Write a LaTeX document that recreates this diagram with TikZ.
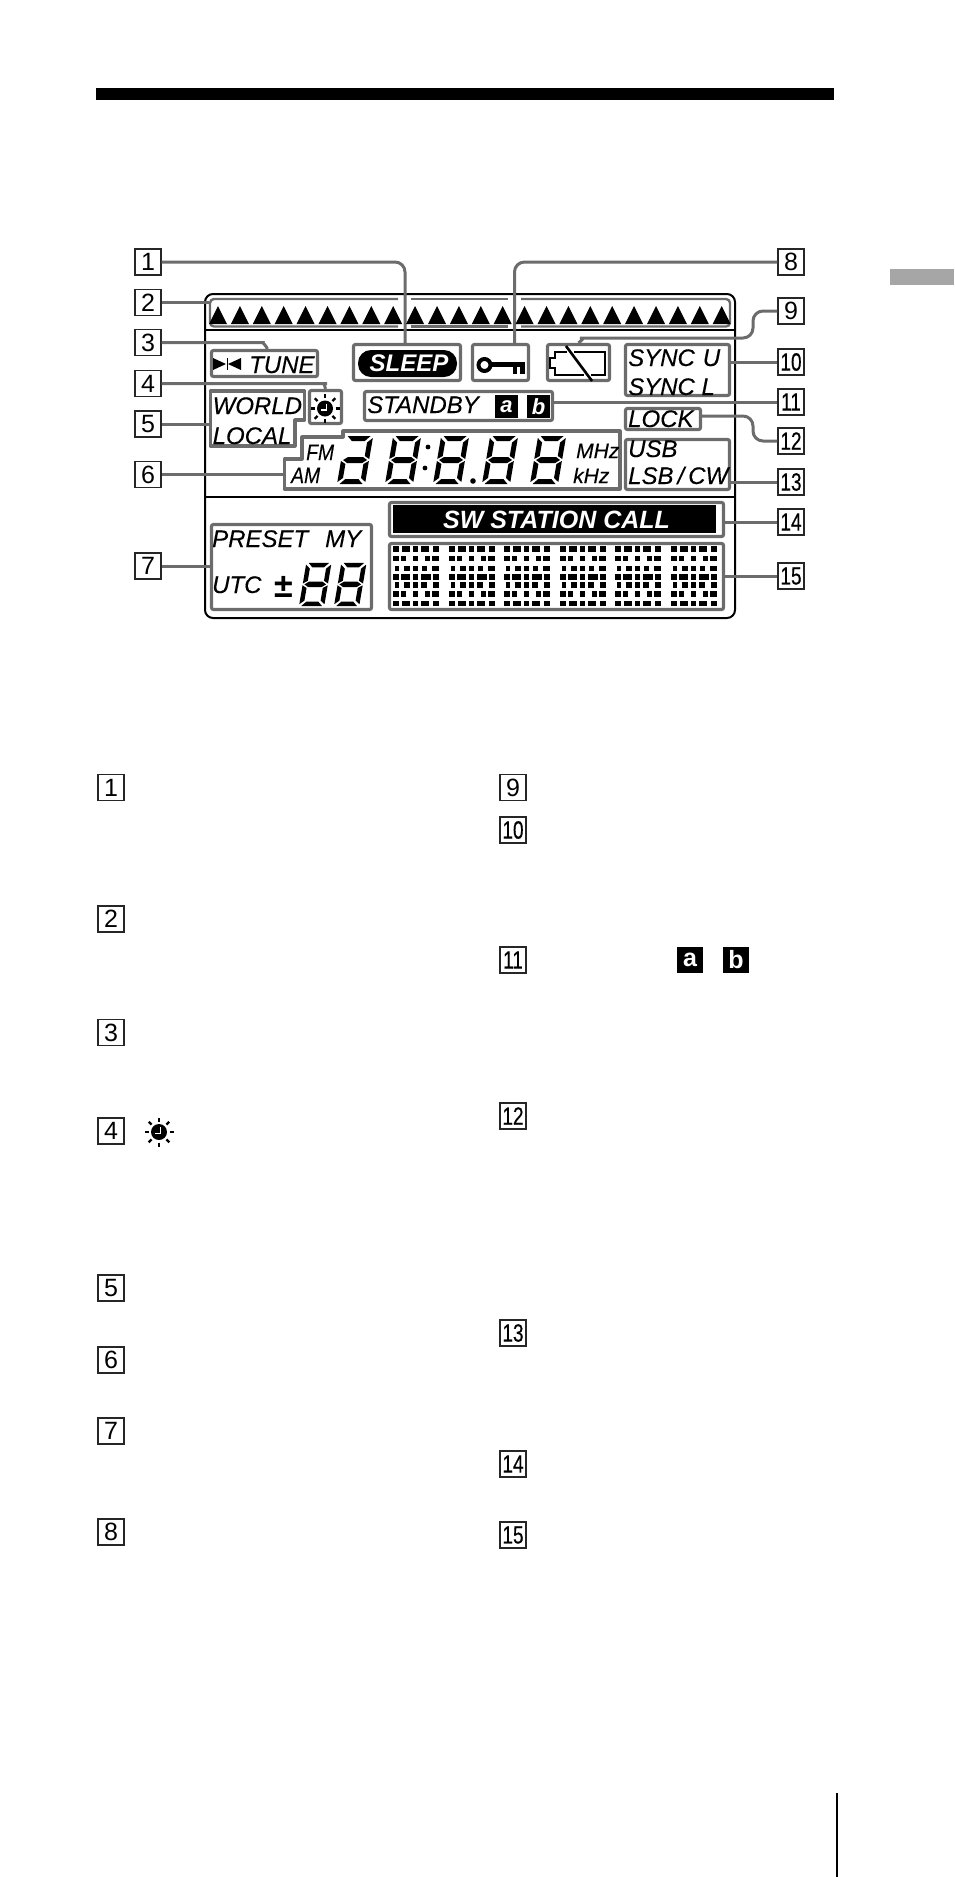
\documentclass[tikz,border=0pt]{standalone}
\usepackage{fontspec}
\setmainfont{Liberation Sans}
\definecolor{lcdgrey}{HTML}{6C6C6C}
\definecolor{tabgrey}{HTML}{A6A6A6}
\newcommand{\fsz}[1]{\fontsize{#1}{#1}\selectfont}
\newcommand{\numtxt}[1]{\ifnum#1>9 \scalebox{.76}[1]{\addfontfeature{FakeBold=0.5}#1}\else #1\fi}
\newcommand{\lcddigit}[4]{%
	\begin{scope}[shift={(#1,#2)},x={(#3*1pt,0pt)},y={(#3*.17pt,#3*1pt)}]
		\fill (2.5,48) -- (25.5,48) -- (20.5,43) -- (7.5,43) -- cycle;
		\ifnum#4=1 \fill (0,46) -- (5,41.5) -- (5,28) -- (0,25) -- cycle;\fi
		\fill (28,46) -- (23,41.5) -- (23,28) -- (28,25) -- cycle;
		\fill (2,24) -- (6.5,27) -- (21.5,27) -- (26,24) -- (21.5,21) -- (6.5,21) -- cycle;
		\fill (0,23) -- (5,20) -- (5,6) -- (0,2) -- cycle;
		\fill (28,23) -- (23,20) -- (23,6) -- (28,2) -- cycle;
		\fill (2.5,0) -- (25.5,0) -- (20.5,5) -- (7.5,5) -- cycle;
	\end{scope}}
\newcommand{\sunclock}[2]{%
	\begin{scope}[shift={(#1,#2)}]
		\fill (0,0) circle (8);
		\draw[white,line width=1.2pt] (1.5,-5) -- (1.5,1.5) -- (-4,1.5);
		\foreach \a in {0,45,...,315}
			\draw[line width=2.2pt] (\a:10.5) -- (\a:14.5);
	\end{scope}}
\tikzset{
	numbox/.style={draw=black!85,line width=1.2pt,fill=white,minimum size=26pt,inner sep=0pt,font=\fsz{25}},
	lcdbox/.style={draw=lcdgrey,line width=3.2pt,rounded corners=2pt,inner sep=0pt},
	lcdline/.style={draw=lcdgrey,line width=3.2pt,line join=round},
	stripline/.style={draw=lcdgrey,line width=2.4pt,rounded corners=4pt},
	lead/.style={draw=lcdgrey,line width=3pt,rounded corners=10pt},
	lcdtext/.style={anchor=base west,inner sep=0pt,font=\itshape\fsz{24}\addfontfeature{FakeBold=0.2}},
	smalltext/.style={anchor=base west,inner sep=0pt,font=\itshape\fsz{21}\addfontfeature{FakeBold=0.2}},
	boldtext/.style={anchor=base,inner sep=0pt,text=white,font=\bfseries\itshape\fsz{#1}},
	inverse/.style={fill=black,text=white,inner sep=0pt,minimum size=#1}
}
\begin{document}
\begin{tikzpicture}[x=1pt,y=-1pt]
	\useasboundingbox (0,0) rectangle (954,1877);
	\fill (96,88) rectangle (834,100);
	\fill[tabgrey] (890,269) rectangle (954,285);
	\draw[line width=2pt] (837,1793) -- (837,1877);

	\foreach \n/\y in {1/262,2/302.5,3/342.5,4/383.5,5/424,6/474.5,7/566}
		\node[numbox] (top\n) at (148,\y) {\n};
	\foreach \n/\y in {8/262,9/311,10/362,11/402,12/441,13/482,14/522,15/576}
		\node[numbox] (top\n) at (791,\y) {\numtxt{\n}};
	\foreach \n/\y in {1/787.5,2/919,3/1032.5,4/1131,5/1288,6/1360,7/1431,8/1532}
		\node[numbox] (low\n) at (111,\y) {\n};
	\foreach \n/\y in {9/787.5,10/830,11/960,12/1116,13/1333,14/1464,15/1535}
		\node[numbox] (low\n) at (513,\y) {\numtxt{\n}};

	\draw[line width=2pt,rounded corners=8pt] (205,294) rectangle (735,618);
	\draw[line width=2pt] (205,330) -- (735,330);
	\draw[line width=2pt] (205,497) -- (735,497);

	\draw[stripline] (398,299) -- (210,299) -- (210,326.5) -- (398,326.5);
	\draw[stripline] (411,299) -- (508,299);
	\draw[stripline] (411,326.5) -- (508,326.5);
	\draw[stripline] (521,299) -- (730,299) -- (730,326.5) -- (521,326.5);

	\node[lcdbox,minimum width=106pt,minimum height=26pt] (tunebox) at (264.5,363.5) {};
	\node[lcdbox,minimum width=107pt,minimum height=36pt] (sleepbox) at (407,362.5) {};
	\node[lcdbox,minimum width=56pt,minimum height=36pt] (keybox) at (500.5,362.5) {};
	\node[lcdbox,minimum width=62pt,minimum height=36pt] (batterybox) at (578.5,362.5) {};
	\node[lcdbox,minimum width=104pt,minimum height=51pt] (syncbox) at (677.5,370) {};
	\node[lcdbox,minimum width=32pt,minimum height=33pt] (clockbox) at (325.5,407) {};
	\node[lcdbox,minimum width=188pt,minimum height=29pt] (standbybox) at (458.5,406) {};
	\node[lcdbox,minimum width=75pt,minimum height=21pt] (lockbox) at (663,419) {};
	\node[lcdbox,minimum width=104pt,minimum height=50pt] (usbbox) at (677.5,464.5) {};
	\node[lcdbox,minimum width=160pt,minimum height=85pt] (presetbox) at (291.5,567) {};
	\node[lcdbox,minimum width=334pt,minimum height=34pt] (stationbox) at (556.5,519.5) {};
	\node[lcdbox,minimum width=334pt,minimum height=66pt] (dotbox) at (556.5,576.5) {};
	\draw[lcdline] (210.5,391) -- (304.5,391) -- (304.5,420) -- (295,420) -- (295,446) -- (210.5,446) -- cycle;
	\draw[lcdline] (284.5,489) -- (284.5,459) -- (302,459) -- (302,437) -- (343,437) -- (343,431) -- (620,431) -- (620,489) -- cycle;
	\coordinate (worldin) at (210,424);
	\coordinate (freqin) at (283,474.5);
	\coordinate (stripin) at (209,302.5);

	\draw[lead] (top1.east) -| ([xshift=-2pt]sleepbox.north);
	\draw[lead] (top8.west) -| ([xshift=14pt]keybox.north);
	\draw[lead] (top2.east) -- (stripin);
	\draw[lead] (top3.east) -- (253,342.5) .. controls (262,342.5) and (265,344) .. ([xshift=3pt]tunebox.north);
	\draw[lead] (top4.east) -- (317,383.5) .. controls (322,383.5) and (325,385) .. (clockbox.north);
	\draw[lead] (top5.east) -- (worldin);
	\draw[lead] (top6.east) -- (freqin);
	\draw[lead] (top7.east) -- (presetbox.west |- top7.east);
	\draw[lead] (top9.west) -| (753,338) -- (590,338) .. controls (585,338) and (582,340) .. (batterybox.north);
	\draw[lead] (top10.west) -- (syncbox.east |- top10.west);
	\draw[lead] (top11.west) -- (standbybox.east |- top11.west);
	\draw[lead] (lockbox.east |- 0,416) -| (753,441) -- (top12.west);
	\draw[lead] (top13.west) -- (usbbox.east |- top13.west);
	\draw[lead] (top14.west) -- (stationbox.east |- top14.west);
	\draw[lead] (top15.west) -- (dotbox.east |- top15.west);

	\foreach \i in {0,...,23}
		\fill ({209+21.9*\i},324) -- ++(18,0) -- ++(-9,-18) -- cycle;

	\fill (213,358) -- (213,370) -- (226,364) -- cycle;
	\fill (241,358) -- (241,370) -- (228,364) -- cycle;
	\draw[line width=1pt] (227,358) -- (227,370);
	\node[lcdtext] (tunelabel) at (249,373) {TUNE};

	\fill[rounded corners=13pt] (358,350) rectangle (457,377);
	\node[boldtext=24] (sleeplabel) at (409,371) {SLEEP};

	\draw[line width=4pt] (484.5,365) circle (6);
	\fill (492,362) rectangle (525,366.5);
	\fill (513,366) rectangle (517,374);
	\fill (520,366) rectangle (525,374);

	\draw[line width=2pt] (567,352) -- (555,352) -- (555,358) -- (550,358) -- (550,368) -- (555,368) -- (555,375) -- (584,375);
	\draw[line width=2pt] (574,352) -- (605,352) -- (605,375) -- (591,375);
	\draw[line width=2.6pt] (566,346) -- (592,381);

	\node[lcdtext] (syncu) at (628,366) {SYNC\,\,U};
	\node[lcdtext] (syncl) at (628,395) {SYNC L};
	\node[lcdtext] (world) at (212.5,414) {WORLD};
	\node[lcdtext] (local) at (212.5,444) {LOCAL};
	\sunclock{325}{408.5}
	\node[lcdtext] (standby) at (367,413) {STANDBY};
	\node[inverse=23pt,font=\bfseries\itshape\fsz{22}] (keya) at (506.5,406.5) {a};
	\node[inverse=23pt,font=\bfseries\itshape\fsz{22}] (keyb) at (538.5,406.5) {b};
	\node[lcdtext] (lock) at (628,427) {LOCK};
	\node[lcdtext] (usb) at (628,457) {USB};
	\node[lcdtext] (lsb) at (628,484) {LSB\,/\,CW};

	\node[smalltext] (fm) at (306,460) {\scalebox{.92}[1.06]{FM}};
	\node[smalltext] (am) at (291,483) {\scalebox{.92}[1.06]{AM}};
	\lcddigit{337}{484}{1}{0}
	\lcddigit{385}{484}{1}{1}
	\lcddigit{433}{484}{1}{1}
	\lcddigit{482}{484}{1}{1}
	\lcddigit{530}{484}{1}{1}
	\fill (428,447) circle (2.4);
	\fill (425,468) circle (2.4);
	\fill (473,481) circle (2.8);
	\node[smalltext] (mhz) at (576,458) {MHz};
	\node[smalltext] (khz) at (573,483) {kHz};

	\fill (393,505) rectangle (716,533);
	\node[boldtext=25] (station) at (556.5,528) {SW STATION CALL};

	\foreach \gx in {393,448.6,504.2,559.8,615.4,671}
		\foreach \r/\spans in {549/{0/6,9/17,20/25,28/36,40/46},558.5/{0/6,8/13,20/25,32/37,39/46},568.5/{2/6,11/17,20/25,29/34,39/46},577/{0/6,8/17,20/25,28/38,40/46},585/{2/6,11/17,20/25,28/34,40/46},594/{0/6,8/13,20/25,32/37,39/46},603.5/{0/6,9/17,20/25,28/36,40/46}}
			\foreach \a/\b in \spans
				\fill (\gx+\a,\r-2.8) rectangle (\gx+\b,\r+2.8);

	\node[lcdtext] (preset) at (212,547) {PRESET};
	\node[lcdtext] (my) at (325,547) {MY};
	\node[lcdtext] (utc) at (212,593) {UTC};
	\node[anchor=base west,inner sep=0pt,font=\bfseries\fsz{34}] (plusminus) at (274,597) {±};
	\lcddigit{299}{606}{.9}{1}
	\lcddigit{334}{606}{.9}{1}

	\sunclock{159}{1132}
	\node[inverse=26pt,font=\bfseries\fsz{25}] (lowa) at (690,960) {a};
	\node[inverse=26pt,font=\bfseries\fsz{25}] (lowb) at (736,960) {b};
\end{tikzpicture}
\end{document}
